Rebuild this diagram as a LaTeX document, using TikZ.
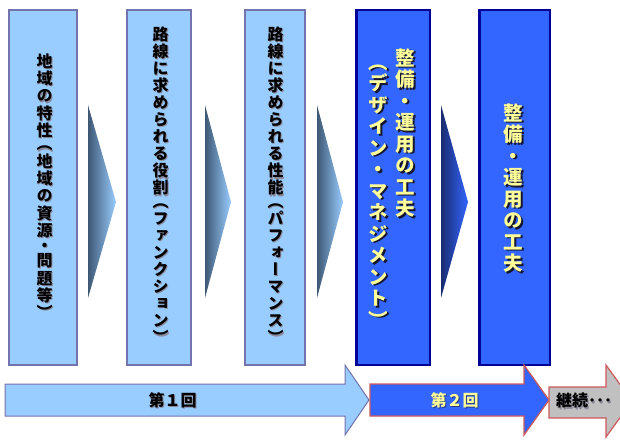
\documentclass[tikz,border=0pt]{standalone}
\usepackage{fontspec}
\newfontfamily\jpv{Noto Sans CJK JP}[RawFeature=+vert]
\newfontfamily\jph{Noto Sans CJK JP}
\definecolor{lfill}{HTML}{99CCFF}
\definecolor{lline}{HTML}{7373AD}
\definecolor{dfill}{HTML}{3366FF}
\definecolor{dline}{HTML}{000099}
\definecolor{ytext}{HTML}{FFFF99}
\definecolor{rline}{HTML}{CC5A5A}
\definecolor{gfill}{HTML}{C0C0C0}
\definecolor{slate}{HTML}{3E5874}
\definecolor{navyc}{HTML}{1A2C70}
\definecolor{lshadow}{HTML}{8A8A9A}
\definecolor{dshadow}{HTML}{151530}
\definecolor{bshadow}{HTML}{2A3C8A}

\newlength\tcw \newlength\tgap \newlength\tcutA \newlength\tcutB
\def\tLP{（}\def\tRP{）}\def\tDOT{・}
\makeatletter
\newcommand\tate[4]{%
  \vbox{\offinterlineskip\setlength\tgap{#1}\setlength\tcutA{#2}\setlength\tcutB{#3}\setlength\tcw{1.2em}%
  \@tfor\tch:=#4\do{\tatecell}\kern-\tgap}}
\makeatother
\def\tatecell{%
  \ifx\tch\tLP \tput{\tcutA}{0pt}\else
  \ifx\tch\tRP \tput{0pt}{\tcutA}\else
  \ifx\tch\tDOT \tput{\tcutB}{\tcutB}\else
  \tput{0pt}{0pt}\fi\fi\fi}
\def\tput#1#2{\kern-#1\hbox to\tcw{\hss\vrule width0pt height.88em depth.12em\smash{\tch}\hss}\kern-#2\kern\tgap}
% text with a drop shadow inside one node
\newcommand\shtext[3]{\leavevmode\rlap{\kern#1\lower#1\hbox{\color{#2}#3}}#3}

\tikzset{
  lbox/.style={draw=lline, fill=lfill, line width=2pt, inner sep=0pt},
  dbox/.style={draw=dline, fill=dfill, line width=2.5pt, inner sep=0pt},
  vsmall/.style={font=\jpv\bfseries\fontsize{16}{16}\selectfont, inner sep=0pt},
  vbig/.style={font=\jpv\bfseries\fontsize{19.5}{19.5}\selectfont, inner sep=0pt, text=ytext},
  hlab/.style={font=\jph\bfseries\fontsize{16}{16}\selectfont, inner sep=0pt},
}

\begin{document}
\begin{tikzpicture}[x=1pt,y=-1pt]
\useasboundingbox (0,0) rectangle (620,441);

% boxes
\node[lbox, minimum width=68pt, minimum height=355pt] (b1) at (43,187.5) {};
\node[lbox, minimum width=64pt, minimum height=355pt] (b2) at (159,187.5) {};
\node[lbox, minimum width=60pt, minimum height=355pt] (b3) at (275,187.5) {};
\node[dbox, minimum width=73.5pt, minimum height=355pt] (b4) at (393,187.5) {};
\node[dbox, minimum width=70.5pt, minimum height=355pt] (b5) at (514.5,187.5) {};

% chevrons
\shade[left color=slate, right color=lfill] (88,105) -- (116,202) -- (88,298) -- cycle;
\shade[left color=slate, right color=lfill] (205,105) -- (231,202) -- (205,298) -- cycle;
\shade[left color=slate, right color=lfill] (317,105) -- (343,202) -- (317,298) -- cycle;
\shade[left color=navyc, right color=dfill] (441,105) -- (468,202) -- (441,298) -- cycle;

% vertical texts
\node[vsmall] (t1) at (44.5,185.5) {\shtext{1.2pt}{lshadow}{\tate{1.3pt}{0.25em}{0.13em}{地域の特性（地域の資源・問題等）}}};
\node[vsmall] (t2) at (160.5,184.5) {\shtext{1.2pt}{lshadow}{\tate{1.1pt}{0.25em}{0.13em}{路線に求められる役割（ファンクション）}}};
\node[vsmall] (t3) at (275.5,184.5) {\shtext{1.2pt}{lshadow}{\tate{1.1pt}{0.25em}{0.13em}{路線に求められる性能（パフォーマンス）}}};

\node[vbig, anchor=north] (t4a) at (405.7,48) {\shtext{1.5pt}{dshadow}{\tate{2pt}{0pt}{0pt}{整備・運用の工夫}}};
\node[vbig, anchor=north] (t4b) at (378.7,52) {\shtext{1.5pt}{dshadow}{\tate{2pt}{0pt}{0pt}{（デザイン・マネジメント）}}};
\node[vbig] (t5) at (513.7,188.7) {\shtext{1.5pt}{dshadow}{\tate{2pt}{0pt}{0pt}{整備・運用の工夫}}};

% bottom arrows
\coordinate (a3a) at (549,387); \coordinate (a3b) at (606,387); \coordinate (a3c) at (606,365);
\coordinate (a3d) at (632,401); \coordinate (a3e) at (606,437); \coordinate (a3f) at (606,418);
\coordinate (a3g) at (549,418);
\draw[rline, fill=gfill, line width=1.2pt, line join=miter] (a3a) -- (a3b) -- (a3c) -- (a3d) -- (a3e) -- (a3f) -- (a3g) -- cycle;

\coordinate (a2a) at (370,384); \coordinate (a2b) at (524,384); \coordinate (a2c) at (524,365);
\coordinate (a2d) at (549,400); \coordinate (a2e) at (524,435); \coordinate (a2f) at (524,416);
\coordinate (a2g) at (370,416);
\draw[rline, fill=dfill, line width=1.2pt] (a2a) -- (a2b) -- (a2c) -- (a2d) -- (a2e) -- (a2f) -- (a2g) -- cycle;

\coordinate (a1a) at (5,384); \coordinate (a1b) at (345,384); \coordinate (a1c) at (345,365);
\coordinate (a1d) at (369,400); \coordinate (a1e) at (345,435); \coordinate (a1f) at (345,416);
\coordinate (a1g) at (5,416);
\draw[lline, fill=lfill, line width=1pt] (a1a) -- (a1b) -- (a1c) -- (a1d) -- (a1e) -- (a1f) -- (a1g) -- cycle;

% bottom labels
\node[hlab] (l1) at (172.5,400.5) {\shtext{1.2pt}{lshadow}{第１回}};
\node[hlab, text=ytext] (l2) at (454.5,400.5) {\shtext{1.2pt}{bshadow}{第２回}};
\node[hlab, anchor=west] (l3) at (556,401.5) {\shtext{1.2pt}{lshadow}{継続･･･}};
\end{tikzpicture}
\end{document}
